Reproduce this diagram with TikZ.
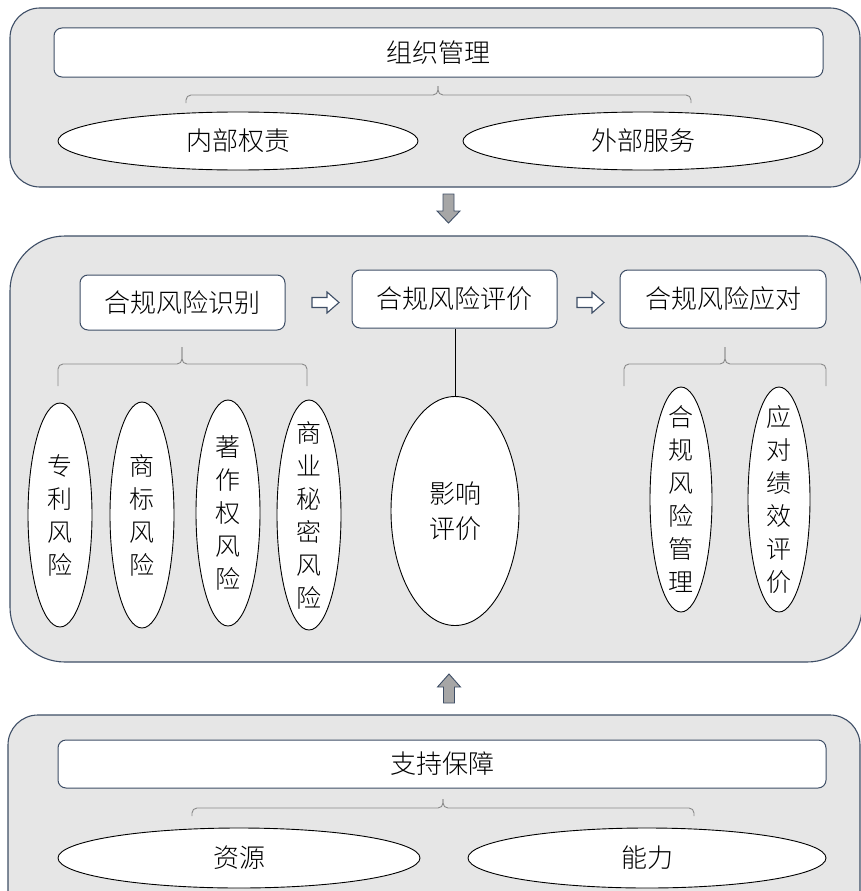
\documentclass[tikz,border=0pt]{standalone}
\usepackage{fontspec}
\IfFontExistsTF{Noto Sans CJK SC Light}
  {\newfontfamily\cjk{Noto Sans CJK SC Light}}
  {\newfontfamily\cjk{Noto Sans CJK SC}}
\usetikzlibrary{shapes.geometric}
\definecolor{panelfill}{HTML}{E6E6E6}
\definecolor{panelline}{HTML}{3E4E66}
\definecolor{bracegray}{HTML}{8A8A8A}
\definecolor{arrowgray}{HTML}{A6A6A6}
\tikzset{
  panel/.style={draw=panelline, line width=1.1pt, fill=panelfill, rectangle},
  topbox/.style={draw=panelline, line width=1pt, fill=white, rectangle, rounded corners=8pt,
    font=\cjk\fontsize{26}{32}\selectfont, inner sep=0pt},
  hell/.style={draw=black, line width=0.9pt, fill=white, ellipse, inner sep=0pt,
    font=\cjk\fontsize{26}{32}\selectfont},
  vell/.style={draw=black, line width=0.9pt, fill=white, ellipse, inner sep=0pt},
  vtext/.style={font=\cjk\fontsize{25}{33}\selectfont, align=center, inner sep=0pt},
  bracket/.style={draw=bracegray, line width=0.9pt, rounded corners=5pt},
  bigarrow/.style={draw=panelline, line width=0.9pt, fill=arrowgray, line join=miter},
  smallarrow/.style={draw=panelline, line width=1.1pt, fill=white, line join=miter},
}
\begin{document}
\begin{tikzpicture}[x=1pt,y=-1pt]
\useasboundingbox (0,0) rectangle (861,891);

% ---------- panel 1 ----------
\node[panel, rounded corners=30pt, minimum width=850pt, minimum height=179pt] (p1) at (435,97.5) {};
\node[topbox, minimum width=769pt, minimum height=49pt] (org) at (438.5,52.5) {组织管理};
\node[hell, minimum width=360pt, minimum height=58pt] (nb) at (238,141) {内部权责};
\node[hell, minimum width=360pt, minimum height=58pt] (wb) at (643,141) {外部服务};
\coordinate (b1l) at (186,103); \coordinate (b1r) at (691,103);
\coordinate (b1m) at (438,95); \coordinate (b1t) at (438,86);
\draw[bracket] (b1l) -- (b1l |- b1m) -- (b1m) -- (b1t);
\draw[bracket] (b1r) -- (b1r |- b1m) -- (b1m) -- (b1t);

% arrow down
\coordinate (ad) at (448.5,194);
\draw[bigarrow, shift={(ad)}] (-5.5,0) -- (5.5,0) -- (5.5,17) -- (11.5,17) -- (0,29)
  -- (-11.5,17) -- (-5.5,17) -- cycle;

% ---------- panel 2 ----------
\node[panel, rounded corners=55pt, minimum width=852pt, minimum height=426pt] (p2) at (436,449) {};
\node[topbox, minimum width=205pt, minimum height=55pt] (sb) at (182.5,302.5) {合规风险识别};
\node[topbox, minimum width=205pt, minimum height=58pt] (pj) at (454.5,299) {合规风险评价};
\node[topbox, minimum width=206pt, minimum height=58pt] (yd) at (723,299) {合规风险应对};
\coordinate (sa1) at (312,302.5);
\coordinate (sa2) at (577,302.5);
\foreach \c in {sa1,sa2}
  \draw[smallarrow, shift={(\c)}] (0,-5) -- (15,-5) -- (15,-10.5) -- (27,0) -- (15,10.5)
    -- (15,5) -- (0,5) -- cycle;

% left bracket
\coordinate (b2l) at (58,386); \coordinate (b2r) at (307,386);
\coordinate (b2m) at (182,364); \coordinate (b2t) at (182,347);
\draw[bracket] (b2l) -- (b2l |- b2m) -- (b2m) -- (b2t);
\draw[bracket] (b2r) -- (b2r |- b2m) -- (b2m) -- (b2t);

\node[vell, minimum width=64pt, minimum height=224pt,
  label={[vtext]center:专\\利\\风\\险}] (e1) at (60,515) {};
\node[vell, minimum width=64pt, minimum height=226pt,
  label={[vtext]center:商\\标\\风\\险}] (e2) at (142,515) {};
\node[vell, minimum width=64pt, minimum height=226pt,
  label={[vtext]center:著\\作\\权\\风\\险}] (e3) at (228,513) {};
\node[vell, minimum width=64pt, minimum height=230pt,
  label={[vtext]center:商\\业\\秘\\密\\风\\险}] (e4) at (309,515) {};

% middle
\node[vell, minimum width=128pt, minimum height=229pt,
  label={[vtext, font=\cjk\fontsize{26}{35}\selectfont]center:影响\\评价}] (yx) at (455,511) {};
\draw[line width=1pt, black] (pj.south -| yx.north) -- (yx.north);

% right bracket
\coordinate (b3l) at (624,386); \coordinate (b3r) at (826,386);
\coordinate (b3m) at (725,364); \coordinate (b3t) at (725,347);
\draw[bracket] (b3l) -- (b3l |- b3m) -- (b3m) -- (b3t);
\draw[bracket] (b3r) -- (b3r |- b3m) -- (b3m) -- (b3t);

\node[vell, minimum width=62pt, minimum height=225pt,
  label={[vtext]center:合\\规\\风\\险\\管\\理}] (e5) at (681,499.5) {};
\node[vell, minimum width=62pt, minimum height=225pt,
  label={[vtext]center:应\\对\\绩\\效\\评\\价}] (e6) at (779,499.5) {};

% arrow up
\coordinate (au) at (449,703);
\draw[bigarrow, shift={(au)}] (-5.5,0) -- (5.5,0) -- (5.5,-16) -- (11.5,-16) -- (0,-29)
  -- (-11.5,-16) -- (-5.5,-16) -- cycle;

% ---------- panel 3 ----------
\node[panel, rounded corners=30pt, minimum width=852pt, minimum height=220pt] (p3) at (434,825) {};
\node[topbox, minimum width=768pt, minimum height=48pt] (zc) at (442,764) {支持保障};
\node[hell, minimum width=362pt, minimum height=60pt] (zy) at (239,858) {资源};
\node[hell, minimum width=358pt, minimum height=60pt] (nl) at (647,858) {能力};
\coordinate (b4l) at (192,816); \coordinate (b4r) at (694,816);
\coordinate (b4m) at (443,808); \coordinate (b4t) at (443,799);
\draw[bracket] (b4l) -- (b4l |- b4m) -- (b4m) -- (b4t);
\draw[bracket] (b4r) -- (b4r |- b4m) -- (b4m) -- (b4t);
\end{tikzpicture}
\end{document}
